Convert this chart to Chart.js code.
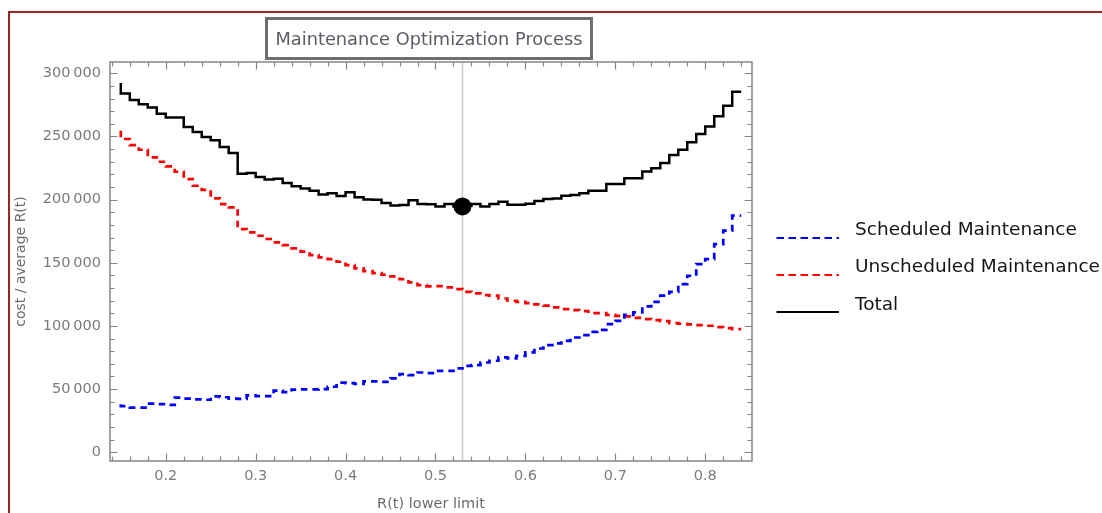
<!DOCTYPE html>
<html>
<head>
<meta charset="utf-8">
<title>Maintenance Optimization Process</title>
<script src="https://cdn.jsdelivr.net/npm/chart.js@4.4.1/dist/chart.umd.min.js"></script>
<style>
  body { margin: 0; background: #fff; font-family: 'DejaVu Sans', sans-serif; }
  #wrap { position: relative; width: 1102px; height: 513px; overflow: hidden; background: #fff; }
  #frame { position: absolute; left: 8px; top: 11px; width: 1200px; height: 600px;
           border-top: 2px solid #9e2424; border-left: 2px solid #9e2424; }
  #chart { position: absolute; left: 0; top: 0; }
  #plotTitle { position: absolute; left: 265px; top: 17px; width: 328px; height: 43px;
               box-sizing: border-box; border: 3px solid #6f6f6f; color: #5c5c66;
               font-size: 17.8px; line-height: 37px; text-align: center; white-space: nowrap; }
  .legendLine { position: absolute; left: 776px; }
  .legendText { position: absolute; left: 855px; font-size: 18.5px; line-height: 22px;
                color: #151515; white-space: nowrap; }
</style>
</head>
<body>
<div id="wrap">
  <canvas id="chart" width="1102" height="513"></canvas>
  <div id="frame"></div>
  <div id="plotTitle">Maintenance Optimization Process</div>
  <div id="legend"></div>
</div>
<script>
// R(t) lower limit for each step of the optimisation
const rLimits = [
  0.15, 0.16, 0.17, 0.18, 0.19, 0.20, 0.21, 0.22, 0.23, 0.24,
  0.25, 0.26, 0.27, 0.28, 0.29, 0.30, 0.31, 0.32, 0.33, 0.34,
  0.35, 0.36, 0.37, 0.38, 0.39, 0.40, 0.41, 0.42, 0.43, 0.44,
  0.45, 0.46, 0.47, 0.48, 0.49, 0.50, 0.51, 0.52, 0.53, 0.54,
  0.55, 0.56, 0.57, 0.58, 0.59, 0.60, 0.61, 0.62, 0.63, 0.64,
  0.65, 0.66, 0.67, 0.68, 0.69, 0.70, 0.71, 0.72, 0.73, 0.74,
  0.75, 0.76, 0.77, 0.78, 0.79, 0.80, 0.81, 0.82, 0.83, 0.84
];
const scheduledCost = [
  38000, 36500, 35300, 35300, 38500, 38000, 37500, 43200, 42400, 41800,
  41500, 44200, 43500, 42400, 42200, 45000, 44400, 44400, 48800, 47500,
  49600, 49800, 49800, 50000, 51800, 55000, 54700, 54000, 56000, 56000,
  55700, 58400, 61800, 61000, 63100, 62600, 64400, 64400, 66300, 68400,
  69000, 71000, 72400, 75000, 74200, 76300, 79000, 82100, 84800, 86100,
  88200, 90800, 92700, 95300, 96900, 101400, 104000, 108800, 110700, 115400,
  119100, 123900, 127000, 133100, 139700, 149000, 152900, 164800, 175400, 187300
];
const unscheduledCost = [
  254600, 248000, 243200, 239500, 233500, 230000, 226300, 222100, 216300, 211000,
  207800, 201000, 196500, 193900, 176700, 174000, 171400, 168800, 166200, 164000,
  161400, 158800, 156100, 154300, 152900, 150800, 148200, 145500, 143400, 141800,
  140500, 139200, 137000, 134400, 132300, 131300, 131500, 130500, 129100, 127000,
  125700, 124400, 123900, 121700, 119900, 119100, 118100, 117000, 116000, 114600,
  113300, 112500, 111700, 110100, 110100, 108800, 108000, 107500, 106400, 105400,
  104600, 103800, 102200, 101700, 101200, 100600, 100100, 99000, 98200, 97500
];
const totalCost = [
  292400, 284000, 279000, 275500, 273000, 268000, 265000, 265000, 257500, 253600,
  249600, 247000, 241700, 236900, 220500, 221000, 218000, 216000, 216500, 213100,
  210500, 208900, 207000, 204000, 205000, 202800, 205800, 201800, 200200, 200000,
  197300, 195400, 195800, 199500, 196600, 196400, 194600, 196500, 194600, 195200,
  196500, 194600, 196500, 198300, 196000, 196000, 196800, 199000, 200400, 200900,
  203100, 203600, 205000, 207100, 207100, 212400, 212400, 216900, 216900, 222200,
  224800, 229000, 235400, 239600, 245400, 252000, 258000, 266000, 274400, 285500
];
const seriesNames = ['Scheduled Maintenance', 'Unscheduled Maintenance', 'Total'];
const optimumR = 0.53;
const optimumCost = 194600;

const xTickValues = [0.2, 0.3, 0.4, 0.5, 0.6, 0.7, 0.8];
const yTickValues = [0, 50000, 100000, 150000, 200000, 250000, 300000];

const xMin = 0.138, xMax = 0.852;
const yMin = -7000, yMax = 309000;

Chart.defaults.font.family = "'DejaVu Sans', sans-serif";
Chart.defaults.color = '#7a7a7a';

const toPoints = ys => rLimits.map((r, i) => ({ x: r, y: ys[i] }));
const groupDigits = v => String(v).replace(/\B(?=(\d{3})+(?!\d))/g, '\u2009');

// frame with inward ticks on all four sides, plus the optimum marker line
const frameTicks = {
    id: 'frameTicks',
    beforeDatasetsDraw(chart) {
        const { ctx, chartArea: a, scales: { x } } = chart;
        const px = Math.round(x.getPixelForValue(optimumR)) + 0.5;
        ctx.save();
        ctx.strokeStyle = '#c9c9c9';
        ctx.lineWidth = 1.5;
        ctx.beginPath();
        ctx.moveTo(px, a.top);
        ctx.lineTo(px, a.bottom);
        ctx.stroke();
        ctx.restore();
    },
    afterDraw(chart) {
        const { ctx, chartArea: a, scales: { x, y } } = chart;
        ctx.save();
        ctx.strokeStyle = '#858585';
        ctx.lineWidth = 1.5;
        ctx.strokeRect(a.left, a.top, a.right - a.left, a.bottom - a.top);
        ctx.lineWidth = 1.2;
        ctx.beginPath();
        for (let i = Math.ceil(x.min / 0.02); i * 0.02 <= x.max + 1e-9; i++) {
            const px = Math.round(x.getPixelForValue(i * 0.02)) + 0.5;
            const len = i % 5 === 0 ? 7.5 : 4.5;
            ctx.moveTo(px, a.bottom); ctx.lineTo(px, a.bottom - len);
            ctx.moveTo(px, a.top); ctx.lineTo(px, a.top + len);
        }
        for (let i = Math.ceil(y.min / 10000); i * 10000 <= y.max; i++) {
            const py = Math.round(y.getPixelForValue(i * 10000)) + 0.5;
            const len = i % 5 === 0 ? 7.5 : 4.5;
            ctx.moveTo(a.left, py); ctx.lineTo(a.left + len, py);
            ctx.moveTo(a.right, py); ctx.lineTo(a.right - len, py);
        }
        ctx.stroke();
        ctx.restore();
    }
};

const chart = new Chart(document.getElementById('chart').getContext('2d'), {
    type: 'line',
    data: {
        datasets: [
            {
                label: seriesNames[0],
                data: toPoints(scheduledCost),
                borderColor: '#0000ff',
                borderWidth: 2.7,
                borderDash: [6.5, 5],
                stepped: 'after',
                pointRadius: 0
            },
            {
                label: seriesNames[1],
                data: toPoints(unscheduledCost),
                borderColor: '#ff0000',
                borderWidth: 2.7,
                borderDash: [6.5, 5],
                stepped: 'after',
                pointRadius: 0
            },
            {
                label: seriesNames[2],
                data: toPoints(totalCost),
                borderColor: '#000000',
                borderWidth: 2.5,
                stepped: 'after',
                pointRadius: 0
            },
            {
                type: 'scatter',
                label: 'Optimum',
                data: [{ x: optimumR, y: optimumCost }],
                backgroundColor: '#000000',
                borderWidth: 0,
                pointRadius: 9
            }
        ]
    },
    options: {
        responsive: false,
        animation: false,
        layout: { padding: { left: 10, top: 62, right: 350, bottom: 0 } },
        plugins: {
            legend: { display: false },
            title: { display: false },
            tooltip: { enabled: false }
        },
        scales: {
            x: {
                type: 'linear',
                min: xMin,
                max: xMax,
                afterBuildTicks: s => { s.ticks = xTickValues.map(v => ({ value: v })); },
                afterFit: s => { s.height = 52; },
                grid: { display: false, drawTicks: false },
                border: { display: false },
                ticks: {
                    padding: 7,
                    autoSkip: false,
                    maxRotation: 0,
                    font: { size: 14.5 },
                    callback: v => v.toFixed(1)
                },
                title: {
                    display: true,
                    text: 'R(t) lower limit',
                    color: '#6b6b6b',
                    font: { size: 14.5 },
                    padding: { top: 0, bottom: 0 }
                }
            },
            y: {
                type: 'linear',
                min: yMin,
                max: yMax,
                afterBuildTicks: s => { s.ticks = yTickValues.map(v => ({ value: v })); },
                afterFit: s => { s.width = 100; },
                grid: { display: false, drawTicks: false },
                border: { display: false },
                ticks: {
                    padding: 9,
                    font: { size: 14.5 },
                    callback: v => groupDigits(v)
                },
                title: {
                    display: true,
                    text: 'cost / average R(t)',
                    color: '#6b6b6b',
                    font: { size: 14 },
                    padding: { top: 3, bottom: 0 }
                }
            }
        }
    },
    plugins: [frameTicks]
});

// legend on the right, built from the three cost series
const legend = document.getElementById('legend');
chart.data.datasets.slice(0, 3).forEach((ds, i) => {
    const cy = 228.5 + i * 37.3;
    const dash = ds.borderDash ? 'stroke-dasharray="7.5 4.5"' : '';
    const line = document.createElement('div');
    line.className = 'legendLine';
    line.style.top = (cy - 3) + 'px';
    line.innerHTML = `<svg width="64" height="6"><line x1="0.5" y1="3" x2="63" y2="3" stroke="${ds.borderColor}" stroke-width="2.2" ${dash}/></svg>`;
    legend.appendChild(line);
    const text = document.createElement('div');
    text.className = 'legendText';
    text.style.top = (cy - 10.6) + 'px';
    text.textContent = ds.label;
    legend.appendChild(text);
});
</script>
</body>
</html>
